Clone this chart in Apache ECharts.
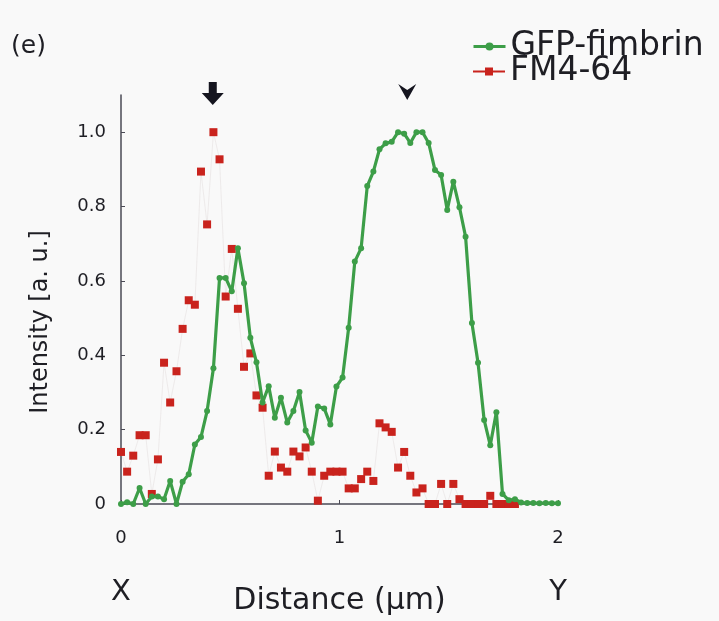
<!DOCTYPE html>
<html>
<head>
<meta charset="utf-8">
<script src="https://cdn.jsdelivr.net/npm/echarts@6/dist/echarts.min.js"></script>
<style>
html,body{margin:0;padding:0;background:#f9f9f9;}
#c{width:719px;height:621px;}
</style>
</head>
<body>
<div id="c"></div>
<script>
// Distance along the line profile (µm)
const distance = [0,0.028,0.056,0.085,0.113,0.141,0.169,0.197,0.225,0.254,0.282,0.310,0.338,0.366,0.394,0.423,0.451,0.479,0.507,0.535,0.563,0.592,0.620,0.648,0.676,0.704,0.732,0.761,0.789,0.817,0.845,0.873,0.901,0.930,0.958,0.986,1.014,1.042,1.070,1.099,1.127,1.155,1.183,1.211,1.239,1.268,1.296,1.324,1.352,1.380,1.408,1.437,1.465,1.493,1.521,1.549,1.577,1.606,1.634,1.662,1.690,1.718,1.746,1.775,1.803,1.831,1.859,1.887,1.915,1.944,1.972,2.000];
// GFP-fimbrin intensity
const gfpFimbrin = [0.00,0.005,0.0,0.043,0.0,0.02,0.02,0.013,0.062,0.0,0.06,0.08,0.16,0.18,0.25,0.365,0.608,0.608,0.572,0.688,0.594,0.447,0.381,0.273,0.317,0.232,0.286,0.219,0.25,0.301,0.198,0.165,0.262,0.257,0.214,0.316,0.34,0.474,0.652,0.688,0.855,0.894,0.954,0.97,0.974,1.0,0.996,0.971,1.0,1.0,0.971,0.898,0.885,0.791,0.867,0.798,0.719,0.487,0.38,0.226,0.158,0.247,0.027,0.01,0.013,0.004,0.003,0.003,0.002,0.003,0.002,0.002];
// FM4-64 intensity
const fm464 = [0.14,0.087,0.13,0.185,0.185,0.027,0.12,0.38,0.273,0.357,0.471,0.548,0.536,0.894,0.752,1.0,0.927,0.558,0.686,0.525,0.369,0.405,0.292,0.259,0.076,0.141,0.098,0.087,0.141,0.128,0.152,0.087,0.009,0.076,0.087,0.087,0.087,0.042,0.042,0.067,0.087,0.062,0.217,0.206,0.194,0.098,0.14,0.076,0.031,0.042,0,0,0.054,0,0.054,0.013,0,0,0,0,0.022,0,0,0,0];
const xTicks = [0,1,2];
const yTicks = [0,0.2,0.4,0.6,0.8,1.0];
const arrowAt = 0.42;      // arrow marker position (µm)
const arrowheadAt = 1.31;  // arrowhead marker position (µm)

const font = "'DejaVu Sans', 'Liberation Sans', Arial, sans-serif";
const green = '#3d9e48';
const red = '#c9231d';
const axisCol = '#4a4a55';
const txt = '#1e1e24';

const gfpData = distance.map((d,i)=>[d,gfpFimbrin[i]]);
const fmData = fm464.map((v,i)=>[distance[i],v]);

const legendText = {fontFamily:font,fontSize:33,color:txt};
const chart = echarts.init(document.getElementById('c'));
chart.setOption({
  backgroundColor:'#f9f9f9',
  animation:false,
  textStyle:{fontFamily:font,color:txt},
  grid:{left:121,right:161,top:95,bottom:116},
  legend:[
    {left:472, top:30, padding:0, itemWidth:32, itemHeight:10, textStyle:legendText,
      data:[{name:'GFP-fimbrin', lineStyle:{color:green,width:3}, itemStyle:{color:green}}]},
    {left:472, top:55, padding:0, itemWidth:32, itemHeight:10, textStyle:legendText,
      data:[{name:'FM4-64', lineStyle:{color:red,width:2}, itemStyle:{color:red}}]}
  ],
  xAxis:{
    type:'value', min:0, max:2, interval:1,
    name:'Distance (μm)', nameLocation:'middle', nameGap:82,
    nameTextStyle:{fontFamily:font,fontSize:30,color:txt},
    axisLine:{lineStyle:{color:axisCol,width:1.5}},
    axisTick:{inside:true,length:4,lineStyle:{color:axisCol},customValues:xTicks},
    axisLabel:{fontFamily:font,fontSize:18,color:txt,margin:25,customValues:xTicks},
    splitLine:{show:false}
  },
  yAxis:{
    type:'value', min:0, max:1.1, interval:0.2,
    axisLine:{show:true,lineStyle:{color:axisCol,width:1.5}},
    axisTick:{show:true,inside:true,length:4,lineStyle:{color:axisCol},customValues:yTicks},
    axisLabel:{fontFamily:font,fontSize:18,color:txt,margin:15,customValues:yTicks,
      formatter:v=> v===0?'0':v.toFixed(1)},
    splitLine:{show:false}
  },
  series:[
    {
      name:'FM4-64', type:'line', data:fmData, symbol:'rect', symbolSize:8,
      lineStyle:{color:'rgba(220,212,212,0.4)',width:1},
      itemStyle:{color:red}, z:2
    },
    {
      name:'GFP-fimbrin', type:'line', data:gfpData, symbol:'circle', symbolSize:6, showAllSymbol:true,
      lineStyle:{color:green,width:3.2}, itemStyle:{color:green}, z:3
    }
  ]
});

// Annotations: "(e)", axis title, X / Y ends, arrow and arrowhead markers
const ax = chart.convertToPixel({gridIndex:0},[arrowAt,0])[0];
const ah = chart.convertToPixel({gridIndex:0},[arrowheadAt,0])[0];
const x0 = chart.convertToPixel({gridIndex:0},[0,0]);
const x2 = chart.convertToPixel({gridIndex:0},[2,0]);
chart.setOption({
  graphic:[
    {type:'text', left:11, top:34, style:{text:'(e)', fontFamily:font, fontSize:25, fill:txt}},
    {type:'text', x:41, y:322, rotation:Math.PI/2,
      style:{text:'Intensity [a. u.]', fontFamily:font, fontSize:24, fill:txt, align:'center', verticalAlign:'middle'}},
    {type:'text', x:x0[0], y:x0[1]+88, style:{text:'X', fontFamily:font, fontSize:29, fill:txt, align:'center', verticalAlign:'middle'}},
    {type:'text', x:x2[0], y:x2[1]+88, style:{text:'Y', fontFamily:font, fontSize:29, fill:txt, align:'center', verticalAlign:'middle'}},
    {type:'polygon', shape:{points:[[ax-4,82],[ax+4,82],[ax+4,93],[ax+11,93],[ax,105],[ax-11,93],[ax-4,93]]}, style:{fill:'#15151f'}},
    {type:'polygon', shape:{points:[[ah-9,84],[ah,90],[ah+9,84],[ah,100]]}, style:{fill:'#15151f'}}
  ]
});
</script>
</body>
</html>
